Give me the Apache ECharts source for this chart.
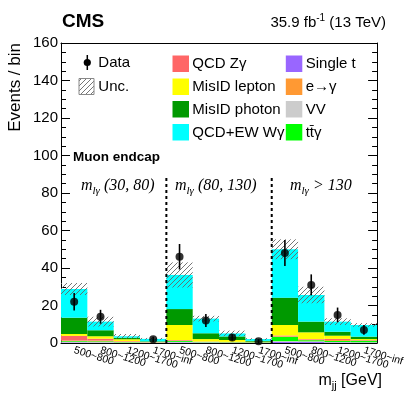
<!DOCTYPE html>
<html><head><meta charset="utf-8">
<script src="https://cdn.jsdelivr.net/npm/echarts@6/dist/echarts.min.js"></script>
<style>html,body{margin:0;padding:0;background:#fff}#c{width:407px;height:395px}</style>
</head><body><div id="c"></div>
<script>
// ---- data ----
const categories = ['500~800','800~1200','1200~1700','1700~inf','500~800','800~1200','1200~1700','1700~inf','500~800','800~1200','1200~1700','1700~inf'];
const singleT  = [0.3,0.2,0.1,0.1, 0.3,0.2,0.1,0.1, 0.6,0.6,0.3,0.2];
const vv       = [0.3,0.3,0.2,0.1, 0.3,0.2,0.1,0.1, 0.4,0.3,0.2,0.2];
const ttg      = [0.4,0.4,0.2,0.1, 0.5,0.2,0.2,0.2, 2.3,0.6,0.6,0.8];
const eToG     = [0.3,0.4,0.2,0.1, 0.2,0.1,0.1,0.05, 0.3,0.3,0.5,0.2];
const qcdZg    = [2.5,1.0,0.3,0.1, 0.3,0.1,0.1,0.05, 0.4,0.3,0.6,0.2];
const misidLep = [1.0,1.3,1.0,0.1, 8.0,1.3,1.0,0.2, 5.6,3.6,1.7,0.5];
const misidPho = [8.7,3.2,0.8,0.3, 8.5,3.1,1.9,0.4, 14.6,5.7,2.1,1.3];
const qcdEwWg  = [15.3,4.6,0.8,1.3, 18.2,7.8,1.6,1.0, 25.8,14.2,5.4,6.2];
const dataVals = [22,14,null,2, 46,12,3,1, 48,31,15,7];
const dataErr  = [4.7,3.7,null,1.4, 6.8,3.5,1.7,1.0, 6.9,5.6,3.9,2.6];
const uncVals  = [3.2,2.6,1.2,0.5, 6.7,1.5,1.5,0.5, 5.3,4.4,1.8,1.0];
const regionEdges = [4, 8];
const regionLineTop = 88;
const yTicks = {min:0, max:160, interval:20};

// ---- styles ----
const SANS = 'Liberation Sans';
const SERIF = 'Liberation Serif';
const components = [
  {name:'Single t', data:singleT, color:'#9966ff'},
  {name:'VV', data:vv, color:'#cccccc'},
  {name:'tt\u0304\u03b3', data:ttg, color:'#00ff00'},
  {name:'e\u2192\u03b3', data:eToG, color:'#ff9933'},
  {name:'QCD Z\u03b3', data:qcdZg, color:'#ff6666'},
  {name:'MisID lepton', data:misidLep, color:'#ffff00'},
  {name:'MisID photon', data:misidPho, color:'#009900'},
  {name:'QCD+EW W\u03b3', data:qcdEwWg, color:'#00ffff'}
];
const total = categories.map((_, i) => components.reduce((s, c) => s + c.data[i], 0));

function hatchCanvas(){
  const c = document.createElement('canvas'); c.width = 5; c.height = 5;
  const g = c.getContext('2d');
  g.strokeStyle = '#666'; g.lineWidth = 0.9;
  g.beginPath();
  g.moveTo(-1,6); g.lineTo(6,-1);
  g.moveTo(-3,3); g.lineTo(3,-3);
  g.moveTo(2,8); g.lineTo(8,2);
  g.stroke();
  return c;
}
const hatch = {image: hatchCanvas(), repeat: 'repeat'};

const mctx = document.createElement('canvas').getContext('2d');
function tw(text, font){ mctx.font = font; return mctx.measureText(text).width; }

const series = [];
components.forEach(c => series.push({
  name:c.name, type:'bar', stack:'mc', data:c.data, barCategoryGap:'0%', barGap:'-100%',
  itemStyle:{color:c.color}, silent:true, animation:false
}));
series.push({type:'bar', stack:'unc', data: total.map((t,i)=>t-uncVals[i]), barCategoryGap:'0%', barGap:'-100%',
  itemStyle:{color:'transparent'}, silent:true, animation:false});
series.push({type:'bar', stack:'unc', data: uncVals.map(u=>2*u), barCategoryGap:'0%', barGap:'-100%',
  itemStyle:{color:hatch}, silent:true, animation:false});
// region separators
series.push({type:'custom', silent:true, animation:false, z:5,
  data: regionEdges.map(e => [e, 0, regionLineTop]),
  renderItem: (p, api) => {
    const half = api.size([1,0])[0]/2;
    const a = api.coord([api.value(0), api.value(1)]);
    const b = api.coord([api.value(0), api.value(2)]);
    return {type:'line', shape:{x1:a[0]-half, y1:a[1], x2:b[0]-half, y2:b[1]},
      style:{stroke:'#000', lineWidth:2, lineDash:[3,3]}};
  }});
// data error bars
series.push({type:'custom', silent:true, animation:false, z:6,
  data: dataVals.map((v,i)=> v==null ? null : [i, v-dataErr[i], v+dataErr[i]]).filter(d=>d),
  renderItem: (p, api) => {
    const a = api.coord([api.value(0), api.value(1)]);
    const b = api.coord([api.value(0), api.value(2)]);
    return {type:'line', shape:{x1:a[0], y1:a[1], x2:b[0], y2:b[1]}, style:{stroke:'#000', lineWidth:1.6}};
  }});
series.push({name:'Data', type:'scatter', data: dataVals.map((v,i)=> v==null ? null : [i, v]).filter(d=>d),
  symbol:'circle', symbolSize:8, itemStyle:{color:'#000'}, silent:true, animation:false, z:7});

// ---- graphics (text, legend) ----
const graphics = [];
const T = (x, y, text, font, opts={}) => Object.assign({type:'text', x, y, silent:true,
  style:Object.assign({text, font, fill:'#000', textAlign:'left', textVerticalAlign:'middle'}, opts.style||{})}, opts.el||{});

graphics.push(T(62, 22, 'CMS', `bold 19px "${SANS}"`));
// lumi
{
  const f1 = `15px "${SANS}"`, f2 = `10px "${SANS}"`;
  const p1 = '35.9 fb', p2 = '-1', p3 = ' (13 TeV)';
  const w1 = tw(p1,f1), w2 = tw(p2,f2), w3 = tw(p3,f1);
  const xe = 386, x0 = xe - w1 - w2 - w3;
  graphics.push(T(x0, 23, p1, f1));
  graphics.push(T(x0+w1, 18, p2, f2));
  graphics.push(T(x0+w1+w2, 23, p3, f1));
}
// y title
graphics.push({type:'text', x:15, y:43, rotation:Math.PI/2, silent:true,
  style:{text:'Events / bin', font:`17px "${SANS}"`, fill:'#000', textAlign:'right', textVerticalAlign:'middle'}});
// x title m_jj [GeV]
{
  const f1 = `16px "${SANS}"`, f2 = `11px "${SANS}"`;
  const w1 = tw('m', f1), w2 = tw('jj', f2), w3 = tw(' [GeV]', f1);
  const xe = 382, x0 = xe - w1 - w2 - w3;
  graphics.push(T(x0, 381, 'm', f1));
  graphics.push(T(x0+w1, 386, 'jj', f2));
  graphics.push(T(x0+w1+w2, 381, ' [GeV]', f1));
}
// region labels
const regionLabels = [{x:81, rest:' (30, 80)'}, {x:175, rest:' (80, 130)'}, {x:290, rest:' > 130'}];
regionLabels.forEach(r => {
  const f1 = `italic 16px "${SERIF}"`, f2 = `italic 11px "${SERIF}"`;
  const w1 = tw('m', f1), w2 = tw('l\u03b3', f2);
  graphics.push(T(r.x, 186, 'm', f1));
  graphics.push(T(r.x+w1, 191, 'l\u03b3', f2));
  graphics.push(T(r.x+w1+w2, 186, r.rest, f1));
});
graphics.push(T(73, 157, 'Muon endcap', `bold 13.5px "${SANS}"`));
// legend
const LF = `15px "${SANS}"`;
graphics.push({type:'line', silent:true, shape:{x1:87.3, y1:55, x2:87.3, y2:70}, style:{stroke:'#000', lineWidth:1.5}});
graphics.push({type:'circle', silent:true, shape:{cx:87.3, cy:62.5, r:3.6}, style:{fill:'#000'}});
graphics.push(T(98.3, 63, 'Data', LF));
graphics.push({type:'rect', silent:true, shape:{x:79, y:78.5, width:15, height:16}, style:{fill:hatch, stroke:'#888', lineWidth:1}});
graphics.push(T(98.3, 86.5, 'Unc.', LF));
const rowsY = [63.5, 86.5, 109, 132];
const col2 = ['QCD Z\u03b3', 'MisID lepton', 'MisID photon', 'QCD+EW W\u03b3'];
const col3 = ['Single t', 'e\u2192\u03b3', 'VV', 'tt\u0304\u03b3'];
[[col2, 172.5, 192.3], [col3, 285.8, 305.7]].forEach(([names, bx, tx]) => {
  names.forEach((n, k) => {
    const c = components.find(c => c.name === n);
    graphics.push({type:'rect', silent:true, shape:{x:bx, y:rowsY[k]-8, width:16.5, height:16.5}, style:{fill:c.color}});
    graphics.push(T(tx, rowsY[k]+0.5, n, LF));
  });
});

const axisBlack = {lineStyle:{color:'#000', width:1}};
const option = {
  animation:false,
  grid:{left:61, right:25, top:43, bottom:52, containLabel:false},
  xAxis:[
    {type:'category', data:categories, position:'bottom', axisLine:axisBlack,
     axisTick:{inside:true, length:9, lineStyle:{color:'#000'}},
     axisLabel:{rotate:-17, interval:0, fontSize:10.5, fontFamily:SANS, color:'#000', margin:7},
     splitLine:{show:false}},
    {type:'category', data:categories, position:'top', axisLine:Object.assign({onZero:false}, axisBlack),
     axisTick:{inside:true, length:9, lineStyle:{color:'#000'}}, axisLabel:{show:false}, splitLine:{show:false}}
  ],
  yAxis:[
    {type:'value', min:yTicks.min, max:yTicks.max, interval:yTicks.interval, position:'left',
     axisLine:{show:true, lineStyle:{color:'#000'}}, axisTick:{show:true, inside:true, length:9, lineStyle:{color:'#000'}},
     minorTick:{show:true, splitNumber:4, length:5, lineStyle:{color:'#000'}},
     axisLabel:{fontSize:15, fontFamily:SANS, color:'#000', margin:3}, splitLine:{show:false}},
    {type:'value', min:yTicks.min, max:yTicks.max, interval:yTicks.interval, position:'right',
     axisLine:{show:true, lineStyle:{color:'#000'}}, axisTick:{show:true, inside:true, length:9, lineStyle:{color:'#000'}},
     minorTick:{show:true, splitNumber:4, length:5, lineStyle:{color:'#000'}},
     axisLabel:{show:false}, splitLine:{show:false}}
  ],
  series: series,
  graphic: graphics
};
const chart = echarts.init(document.getElementById('c'), null, {renderer:'canvas'});
chart.setOption(option);
</script>
</body></html>
